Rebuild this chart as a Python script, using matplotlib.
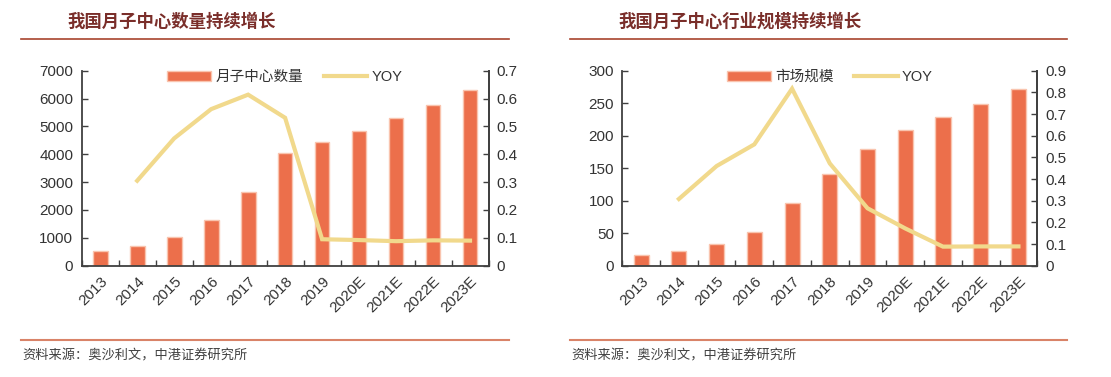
import matplotlib
matplotlib.use("Agg")
import matplotlib.pyplot as plt
from matplotlib.lines import Line2D
import numpy as np

plt.rcParams['font.family'] = ['Liberation Sans', 'Noto Sans CJK SC', 'DejaVu Sans']

years = ['2013', '2014', '2015', '2016', '2017', '2018', '2019',
         '2020E', '2021E', '2022E', '2023E']

# Left chart: number of confinement centers
centers_count = [526, 706, 1029, 1639, 2644, 4032, 4427, 4834, 5301, 5768, 6306]
centers_yoy = [None, 0.305, 0.457, 0.562, 0.614, 0.531, 0.095, 0.092, 0.088, 0.091, 0.090]

# Right chart: market size
market_size = [16.9, 22, 33.3, 52.3, 95.9, 141.5, 179.5, 209, 228, 249, 272]
market_yoy = [None, 0.308, 0.46, 0.56, 0.817, 0.472, 0.265, 0.172, 0.088, 0.089, 0.089]

titles = ['我国月子中心数量持续增长', '我国月子中心行业规模持续增长']
bar_labels = ['月子中心数量', '市场规模']
source = '资料来源：奥沙利文，中港证券研究所'

W, H = 1111, 377
fig = plt.figure(figsize=(W / 100, H / 100), dpi=100)

BAR = '#EC6F4B'
BAR_EDGE = '#F9C4AE'
LINE = '#F1D98C'
SPINE = '#404040'
TXT = '#333333'
CJK = ['Noto Sans CJK SC', 'DejaVu Sans']


def px_axes(x0, x1, ytop, ybot):
    return fig.add_axes([x0 / W, 1 - ybot / H, (x1 - x0) / W, (ybot - ytop) / H])


def draw(ax, bars, yoy, ymax_l, lstep, ymax_r, rstep, bar_label, rfmt):
    x = np.arange(len(years))
    ax.bar(x, bars, width=0.4, color=BAR, edgecolor=BAR_EDGE, linewidth=1.0, zorder=2)
    ax.set_xlim(-0.5, len(years) - 0.5)
    ax.set_ylim(0, ymax_l)
    ax.set_yticks(np.arange(0, ymax_l + lstep / 2, lstep))
    ax.set_xticks(x)
    ax.set_xticklabels(years, rotation=45, ha='right', rotation_mode='anchor',
                       fontsize=11, color=TXT)
    ax.set_xticks(np.arange(-0.5, len(years) + 0.5, 1), minor=True)
    ax.tick_params(axis='x', which='major', length=0, pad=6)
    ax.tick_params(axis='x', which='minor', length=4, direction='in', color=SPINE, width=1)
    ax.tick_params(axis='y', length=4, direction='in', color=SPINE, width=1,
                   labelsize=11, labelcolor=TXT, pad=6)
    ax.spines['top'].set_visible(False)
    for s in ['left', 'bottom', 'right']:
        ax.spines[s].set_color(SPINE)
        ax.spines[s].set_linewidth(1.3)

    ax2 = ax.twinx()
    xv = [i for i, v in enumerate(yoy) if v is not None]
    yv = [v for v in yoy if v is not None]
    ax2.plot(xv, yv, color=LINE, linewidth=3, zorder=3, solid_joinstyle='miter')
    ax2.set_ylim(0, ymax_r)
    ticks = np.round(np.arange(0, ymax_r + rstep / 2, rstep), 2)
    ax2.set_yticks(ticks)
    ax2.set_yticklabels([rfmt(t) for t in ticks])
    ax2.tick_params(axis='y', length=4, direction='in', color=SPINE, width=1,
                    labelsize=11, labelcolor=TXT, pad=6)
    for s in ['top', 'left', 'bottom']:
        ax2.spines[s].set_visible(False)
    ax2.spines['right'].set_color(SPINE)
    ax2.spines['right'].set_linewidth(1.3)

    handles = [plt.Rectangle((0, 0), 1, 1, facecolor=BAR, edgecolor=BAR_EDGE),
               Line2D([0], [0], color=LINE, linewidth=3)]
    leg = ax.legend(handles, [bar_label, 'YOY'], loc='upper center',
                    bbox_to_anchor=(0.5, 1.07), ncol=2, frameon=False,
                    prop={'family': ['Liberation Sans', 'Noto Sans CJK SC'], 'size': 10.5},
                    handlelength=3.0, handleheight=0.6,
                    columnspacing=1.4, handletextpad=0.3)
    for t in leg.get_texts():
        t.set_color(TXT)
    leg.set_zorder(10)
    return ax2


def fmt(t):
    return '0' if t == 0 else f'{t:.1f}'


axL = px_axes(81.7, 488.5, 70.7, 265.7)
draw(axL, centers_count, centers_yoy, 7000, 1000, 0.7, 0.1, bar_labels[0], fmt)

axR = px_axes(622.3, 1037.3, 70.7, 265.7)
draw(axR, market_size, market_yoy, 300, 50, 0.9, 0.1, bar_labels[1], fmt)

# Titles, rules, and source notes
TITLE = '#7A2E2A'
for (tx, lx0, lx1), title in zip([(67, 21, 509), (618, 570, 1067)], titles):
    fig.text(tx / W, 1 - 22 / H, title, fontsize=12.5, fontweight='bold',
             color=TITLE, va='center', ha='left', family=CJK)
    fig.add_artist(Line2D([lx0 / W, lx1 / W], [1 - 39 / H, 1 - 39 / H],
                          color='#A8442E', linewidth=1.2))
    fig.add_artist(Line2D([lx0 / W, lx1 / W], [1 - 340 / H, 1 - 340 / H],
                          color='#D98368', linewidth=1.5))
    fig.text((lx0 + 1) / W, 1 - 356 / H, source, fontsize=9.5, color='#404040',
             va='center', ha='left', family=CJK)

fig.savefig('out.png', dpi=100)
